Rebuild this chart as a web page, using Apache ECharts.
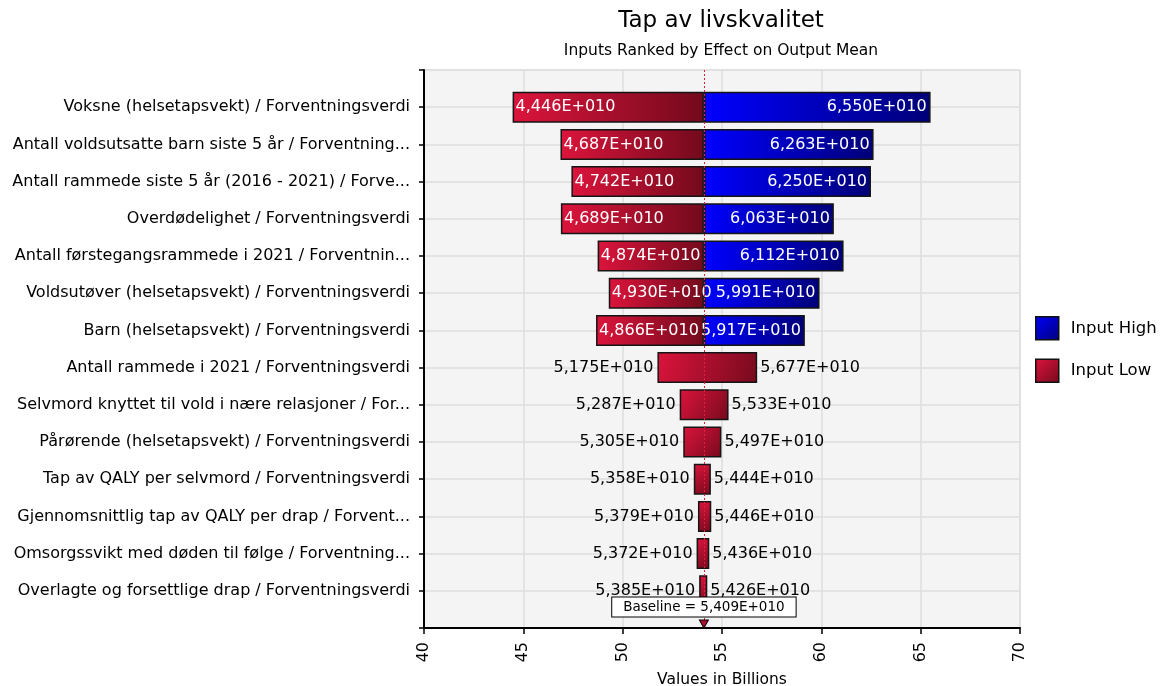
<!DOCTYPE html>
<html>
<head>
<meta charset="utf-8">
<script src="https://cdn.jsdelivr.net/npm/echarts@6/dist/echarts.min.js"></script>
<style>
  html, body { margin: 0; padding: 0; background: #fff; }
  #chart { width: 1162px; height: 686px; }
</style>
</head>
<body>
<div id="chart"></div>
<script>
// ---- Data (values in billions) ----
const categories = [
  'Voksne (helsetapsvekt) / Forventningsverdi',
  'Antall voldsutsatte barn siste 5 år / Forventning...',
  'Antall rammede siste 5 år (2016 - 2021) / Forve...',
  'Overdødelighet / Forventningsverdi',
  'Antall førstegangsrammede i 2021 / Forventnin...',
  'Voldsutøver (helsetapsvekt) / Forventningsverdi',
  'Barn (helsetapsvekt) / Forventningsverdi',
  'Antall rammede i 2021 / Forventningsverdi',
  'Selvmord knyttet til vold i nære relasjoner / For...',
  'Pårørende (helsetapsvekt) / Forventningsverdi',
  'Tap av QALY per selvmord / Forventningsverdi',
  'Gjennomsnittlig tap av QALY per drap / Forvent...',
  'Omsorgssvikt med døden til følge / Forventning...',
  'Overlagte og forsettlige drap / Forventningsverdi'
];
const lowValues  = [44.46, 46.87, 47.42, 46.89, 48.74, 49.30, 48.66, 51.75, 52.87, 53.05, 53.58, 53.79, 53.72, 53.85];
const highValues = [65.50, 62.63, 62.50, 60.63, 61.12, 59.91, 59.17, 56.77, 55.33, 54.97, 54.44, 54.46, 54.36, 54.26];
const baseline = 54.09;
const splitCount = 7; // first rows drawn as low(red)/high(blue) split at baseline
const xTicks = [40, 45, 50, 55, 60, 65, 70];

// ---- Helpers ----
const fmt = v => (v / 10).toFixed(3).replace('.', ',') + 'E+010';
const G = echarts.graphic.LinearGradient;
const redH  = () => new G(0, 0, 1, 0, [{offset: 0, color: '#dc143c'}, {offset: 1, color: '#730a1c'}]);
const blueH = () => new G(0, 0, 1, 0, [{offset: 0, color: '#0000ff'}, {offset: 1, color: '#000078'}]);
const redD  = () => new G(0, 0, 1, 1, [{offset: 0, color: '#dc143c'}, {offset: 1, color: '#760a1d'}]);
const blueD = () => new G(0, 0, 1, 1, [{offset: 0, color: '#0000ff'}, {offset: 1, color: '#00007a'}]);

const yCats = [''].concat(categories, ['']);
const pad = v => ['-'].concat(v, ['-']);

const baseData = pad(lowValues.map(v => v));
const redData = pad(lowValues.map((lo, i) => {
  const split = i < splitCount;
  return {
    value: split ? +(baseline - lo).toFixed(4) : +(highValues[i] - lo).toFixed(4),
    itemStyle: { color: split ? redH() : redD() },
    label: split
      ? { show: true, position: 'insideLeft', distance: 3, color: '#fff', formatter: () => fmt(lo) }
      : { show: true, position: 'left', distance: 4, color: '#000', formatter: () => fmt(lo) }
  };
}));
const blueData = pad(highValues.map((hi, i) => {
  const split = i < splitCount;
  return split ? {
    value: +(hi - baseline).toFixed(4),
    itemStyle: { color: blueH() },
    label: { show: true, position: 'insideRight', distance: 4, color: '#fff', formatter: () => fmt(hi) }
  } : {
    value: 0,
    itemStyle: { color: 'rgba(0,0,0,0)', borderWidth: 0 },
    label: { show: true, position: 'right', distance: 3, color: '#000', formatter: () => fmt(hi) }
  };
}));

const FONT = 'DejaVu Sans';
const chart = echarts.init(document.getElementById('chart'), null, { renderer: 'canvas' });
chart.setOption({
  animation: false,
  textStyle: { fontFamily: FONT },
  title: {
    text: 'Tap av livskvalitet',
    subtext: 'Inputs Ranked by Effect on Output Mean',
    left: 716, textAlign: 'center', top: 5, itemGap: 10,
    textStyle: { fontFamily: FONT, fontSize: 23, fontWeight: 'normal', color: '#000' },
    subtextStyle: { fontFamily: FONT, fontSize: 15.5, color: '#000' }
  },
  legend: {
    orient: 'vertical', left: 1035, top: 316, padding: 0, itemWidth: 23, itemHeight: 23, itemGap: 18,
    icon: 'rect',
    textStyle: { fontFamily: FONT, fontSize: 16.5, color: '#000', padding: [0, 0, 0, 7] },
    data: [
      { name: 'Input High', itemStyle: { color: blueD(), borderColor: '#111', borderWidth: 1.5 } },
      { name: 'Input Low', itemStyle: { color: redD(), borderColor: '#111', borderWidth: 1.5 } }
    ]
  },
  grid: {
    left: 424, right: 142, top: 70, bottom: 58, containLabel: false, outerBoundsMode: 'none',
    show: true, backgroundColor: '#f4f4f4', borderColor: '#dcdcdc', borderWidth: 1
  },
  xAxis: {
    type: 'value', min: xTicks[0], max: xTicks[xTicks.length - 1], interval: 5,
    name: 'Values in Billions', nameLocation: 'middle', nameGap: 44,
    nameTextStyle: { fontFamily: FONT, fontSize: 15.5, color: '#000' },
    axisLine: { show: true, lineStyle: { color: '#000', width: 2 } },
    axisTick: { show: true, length: 6, lineStyle: { color: '#000', width: 1.5 } },
    axisLabel: { rotate: 90, fontSize: 16, color: '#000', margin: 14 },
    splitLine: { show: true, lineStyle: { color: '#dedede', width: 1.5 } }
  },
  yAxis: {
    type: 'category', data: yCats, inverse: true, boundaryGap: false,
    axisLine: { show: true, lineStyle: { color: '#000', width: 2 } },
    axisTick: { show: true, length: 5, lineStyle: { color: '#000', width: 1.5 } },
    axisLabel: { fontSize: 16, color: '#000', margin: 14, interval: 0 },
    splitLine: { show: true, lineStyle: { color: '#dedede', width: 1.5 } }
  },
  series: [
    {
      name: 'base', type: 'bar', stack: 's', data: baseData, barWidth: 31, silent: true,
      itemStyle: { color: 'rgba(0,0,0,0)' }
    },
    {
      name: 'Input Low', type: 'bar', stack: 's', data: redData, barWidth: 31,
      itemStyle: { color: redD(), borderColor: '#151515', borderWidth: 1.5 },
      label: { fontFamily: FONT, fontSize: 16 },
      labelLayout: { hideOverlap: false }
    },
    {
      name: 'Input High', type: 'bar', stack: 's', data: blueData, barWidth: 31,
      itemStyle: { color: blueD(), borderColor: '#151515', borderWidth: 1.5 },
      label: { fontFamily: FONT, fontSize: 16 },
      markLine: {
        silent: true, symbol: 'none', animation: false,
        lineStyle: { color: '#e0203c', type: [2, 2], width: 1 },
        label: { show: false },
        data: [{ xAxis: baseline }]
      },
      markPoint: {
        silent: true,
        symbol: 'triangle', symbolSize: [9, 8], symbolRotate: 180, symbolOffset: [0, -4],
        itemStyle: { color: '#b01030', borderColor: '#000', borderWidth: 1 },
        label: {
          show: true, position: 'top', distance: 3,
          formatter: 'Baseline = ' + fmt(baseline),
          fontFamily: FONT, fontSize: 13.5, color: '#000',
          backgroundColor: '#fff', borderColor: '#000', borderWidth: 1, padding: [3, 11, 2, 11]
        },
        data: [{ coord: [baseline, yCats.length - 1] }]
      }
    }
  ]
});
</script>
</body>
</html>
